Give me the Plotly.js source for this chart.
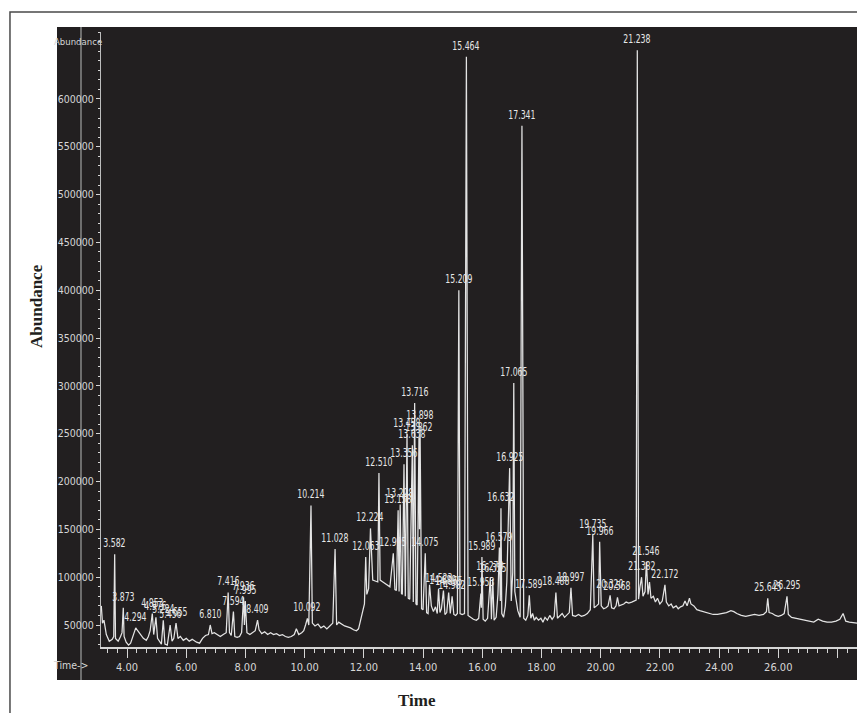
<!DOCTYPE html>
<html>
<head>
<meta charset="utf-8">
<script src="https://cdn.plot.ly/plotly-3.0.1.min.js"></script>
<style>
  html, body { margin: 0; padding: 0; background: #ffffff; }
  #chart { width: 857px; height: 713px; }
  #chart .annotation-text.peak-label-fix { transform-box: fill-box; transform-origin: center; transform: scaleX(0.72); }
</style>
</head>
<body>
<div id="chart"></div>
<script>
// ---- Chromatogram trace (retention time in min, abundance) ----
const timeSeg1 = [3.13, 3.17, 3.22, 3.30, 3.40, 3.50, 3.55, 3.582,
  3.61, 3.70, 3.78, 3.83, 3.873, 3.90, 3.97, 4.05,
  4.12, 4.20, 4.294, 4.36, 4.45, 4.55, 4.65, 4.72,
  4.78, 4.853, 4.90, 4.976, 5.03, 5.10, 5.16, 5.224,
  5.28, 5.36, 5.456, 5.52, 5.58, 5.655, 5.72, 5.80,
  5.90, 6.00, 6.10, 6.20, 6.35, 6.45, 6.55, 6.65,
  6.75, 6.81, 6.87, 6.95];
const abundSeg1 = [70000, 52000, 55000, 40000, 33000, 35000, 38000, 124000,
  36000, 33000, 38000, 42000, 68000, 38000, 32000, 29000,
  31000, 38000, 47000, 44000, 40000, 36000, 34000, 38000,
  44000, 62000, 40000, 58000, 36000, 32000, 30000, 55000,
  30000, 29000, 50000, 33000, 36000, 52000, 36000, 38000,
  34000, 36000, 33000, 35000, 32000, 31000, 36000, 39000,
  40000, 50000, 41000, 42000];

const timeSeg2 = [7.05, 7.15, 7.25, 7.35, 7.416, 7.46, 7.52, 7.594,
  7.64, 7.72, 7.80, 7.87, 7.936, 7.965, 7.995, 8.05,
  8.15, 8.25, 8.33, 8.409, 8.46, 8.55, 8.65, 8.75,
  8.85, 8.95, 9.05, 9.15, 9.25, 9.35, 9.45, 9.55,
  9.65, 9.72, 9.80, 9.90, 9.97, 10.03, 10.092, 10.14,
  10.214, 10.26, 10.35, 10.45, 10.55, 10.65, 10.75, 10.85,
  10.95, 11.028, 11.08, 11.15, 11.25, 11.35, 11.45, 11.55,
  11.65, 11.75, 11.82];
const abundSeg2 = [40000, 38000, 40000, 42000, 84000, 42000, 39000, 64000,
  38000, 37000, 38000, 42000, 79000, 50000, 75000, 42000,
  40000, 42000, 44000, 55000, 45000, 41000, 43000, 40000,
  42000, 40000, 41000, 39000, 40000, 38000, 37000, 38000,
  40000, 46000, 40000, 42000, 44000, 50000, 57000, 50000,
  175000, 52000, 49000, 51000, 47000, 49000, 46000, 49000,
  52000, 129500, 50000, 53000, 51000, 49000, 48000, 47000,
  45000, 44000, 46000];

const timeSeg3 = [11.95, 12.02, 12.063, 12.10, 12.16, 12.224, 12.30, 12.40,
  12.47, 12.51, 12.55, 12.63, 12.70, 12.80, 12.88, 12.995,
  13.05, 13.10, 13.158, 13.19, 13.228, 13.27, 13.30, 13.356,
  13.40, 13.458, 13.50, 13.55, 13.638, 13.67, 13.716, 13.76,
  13.80, 13.862, 13.88, 13.898, 13.95, 14.00, 14.075, 14.12,
  14.17];
const abundSeg3 = [62000, 72000, 121000, 82000, 88000, 151000, 97000, 96000,
  95000, 209000, 97000, 95300, 93800, 91600, 89900, 125000,
  87000, 86000, 170000, 85000, 176000, 83000, 82000, 218000,
  80000, 250000, 78000, 77000, 238000, 74000, 282000, 72000,
  71000, 246000, 150000, 258000, 67000, 66000, 125000, 63000,
  62000];

const timeSeg4 = [14.22, 14.28, 14.35, 14.42, 14.48, 14.523, 14.57, 14.62,
  14.689, 14.74, 14.80, 14.865, 14.92, 14.982, 15.04, 15.10,
  15.16, 15.209, 15.25, 15.32, 15.40, 15.464, 15.52, 15.60,
  15.70, 15.80, 15.88, 15.953, 15.97, 15.989, 16.03, 16.10,
  16.18, 16.273, 16.31, 16.355, 16.40, 16.47, 16.53, 16.579,
  16.61, 16.632, 16.66, 16.72, 16.78, 16.83, 16.925, 16.98,
  17.03, 17.065, 17.10, 17.20, 17.28, 17.341, 17.40, 17.47];
const abundSeg4 = [92000, 70000, 64000, 69000, 62000, 88000, 63000, 67000,
  86000, 61000, 63000, 84000, 62000, 80000, 61000, 60000,
  62000, 400000, 62000, 61000, 62000, 644000, 60000, 58000,
  56000, 55000, 57000, 83000, 68000, 121000, 56000, 54000,
  57000, 100000, 56000, 98000, 55000, 58000, 82000, 131000,
  75000, 172000, 62000, 58000, 70000, 95000, 214000, 75000,
  105000, 303000, 85000, 65000, 58000, 572000, 57000, 55000];

const timeSeg5 = [17.54, 17.589, 17.64, 17.70, 17.76, 17.82, 17.90, 17.98,
  18.05, 18.12, 18.20, 18.28, 18.36, 18.43, 18.488, 18.54,
  18.62, 18.70, 18.78, 18.86, 18.94, 18.997, 19.05, 19.15,
  19.25, 19.35, 19.45, 19.55, 19.65, 19.735, 19.78, 19.86,
  19.93, 19.966, 20.02, 20.10, 20.18, 20.25, 20.32, 20.37,
  20.45, 20.52, 20.568, 20.62, 20.70, 20.78, 20.86, 20.95,
  21.05, 21.12, 21.20, 21.238, 21.28, 21.33, 21.382, 21.43,
  21.50, 21.546, 21.60, 21.65, 21.70, 21.78, 21.85, 21.92,
  22.00, 22.08, 22.172, 22.22, 22.30];
const abundSeg5 = [60000, 81000, 57000, 62000, 55000, 58000, 55000, 57000,
  53000, 58000, 55000, 60000, 56000, 59000, 84000, 57000,
  60000, 62000, 58000, 60000, 63000, 89000, 60000, 59000,
  61000, 59000, 60000, 62000, 66000, 144000, 68000, 70000,
  72000, 137000, 70000, 67000, 68000, 70000, 81000, 68000,
  67000, 70000, 79000, 70000, 71000, 72000, 74000, 73000,
  74000, 75000, 76000, 651000, 77000, 90000, 100000, 80000,
  85000, 116000, 82000, 95000, 78000, 80000, 74000, 78000,
  72000, 75000, 92000, 74000, 70000];

const timeSeg6 = [22.38, 22.45, 22.55, 22.62, 22.70, 22.78, 22.85, 22.92,
  23.00, 23.05, 23.15, 23.25, 23.35, 23.45, 23.55, 23.65,
  23.80, 23.95, 24.10, 24.25, 24.40, 24.50, 24.60, 24.75,
  24.90, 25.05, 25.20, 25.35, 25.50, 25.60, 25.645, 25.69,
  25.80, 25.90, 26.00, 26.10, 26.20, 26.295, 26.34, 26.45,
  26.60, 26.75, 26.90, 27.05, 27.20, 27.35, 27.50, 27.65,
  27.80, 27.95, 28.08, 28.19, 28.28, 28.40, 28.55, 28.66];
const abundSeg6 = [72000, 68000, 70000, 67000, 69000, 70000, 75000, 70000,
  78000, 72000, 70000, 66000, 65000, 64000, 63000, 62000,
  61000, 61000, 62000, 63000, 65000, 64000, 62000, 60000,
  59000, 60000, 61000, 60000, 61000, 64000, 78000, 63000,
  62000, 60000, 59000, 60000, 62000, 80000, 61000, 58000,
  57000, 56000, 55000, 54000, 53000, 56000, 54000, 53000,
  53000, 54000, 56000, 62000, 54000, 53000, 52000, 52000];

// ---- Peak labels (retention times printed above peaks) ----
const peakLabels = ["3.582","3.873","4.294","4.853","4.976","5.224","5.456","5.655",
  "6.810","7.416","7.594","7.936","7.995","8.409","10.092","10.214","11.028",
  "12.063","12.224","12.510","12.995","13.158","13.228","13.356","13.458","13.638",
  "13.716","13.862","13.898","14.075","14.523","14.689","14.865","14.982",
  "15.209","15.464","15.953","15.989","16.273","16.355","16.579","16.632",
  "16.925","17.065","17.341","17.589","18.488","18.997","19.735","19.966",
  "20.320","20.568","21.238","21.382","21.546","22.172","25.645","26.295"];

// ---- Axis ticks ----
const timeTickVals = [4, 6, 8, 10, 12, 14, 16, 18, 20, 22, 24, 26, 28];
const timeTickText = ["4.00","6.00","8.00","10.00","12.00","14.00","16.00","18.00","20.00","22.00","24.00","26.00",""];
const abundTickVals = [50000,100000,150000,200000,250000,300000,350000,400000,450000,500000,550000,600000];

const times = [].concat(timeSeg1, timeSeg2, timeSeg3, timeSeg4, timeSeg5, timeSeg6);
const abund = [].concat(abundSeg1, abundSeg2, abundSeg3, abundSeg4, abundSeg5, abundSeg6);

const narrow = "'Liberation Sans Narrow', 'Arial Narrow', 'DejaVu Sans Condensed', sans-serif";
const serif = "'Liberation Serif', 'Times New Roman', 'DejaVu Serif', serif";
const ink = '#221f20';
const light = '#d6d6d6';

const trace = {
  x: times, y: abund, type: 'scatter', mode: 'lines',
  line: { color: '#e4e4e4', width: 1.25 },
  hoverinfo: 'skip'
};

const peakAnnotations = peakLabels.map(function (lab) {
  const t = parseFloat(lab);
  const i = times.findIndex(function (v) { return Math.abs(v - t) < 1e-6; });
  return {
    x: t, y: abund[i], xref: 'x', yref: 'y', text: lab, showarrow: false,
    yanchor: 'bottom', xanchor: 'center', yshift: 2,
    font: { family: narrow, size: 12, color: '#e8e8e8' }
  };
});

const otherAnnotations = [
  { text: '<b>Abundance</b>', xref: 'paper', yref: 'paper', x: -0.0847, y: 0.5545,
    textangle: -90, showarrow: false, xanchor: 'center', yanchor: 'middle',
    font: { family: serif, size: 17, color: ink } },
  { text: '<b>Time</b>', xref: 'paper', yref: 'paper', x: 0.418, y: -0.0862,
    showarrow: false, xanchor: 'center', yanchor: 'middle',
    font: { family: serif, size: 17, color: ink } },
  { text: 'Abundance', xref: 'paper', yref: 'paper', x: -0.0304, y: 0.985,
    showarrow: false, xanchor: 'center', yanchor: 'middle',
    font: { family: narrow, size: 9.5, color: light } },
  { text: 'Time->', xref: 'paper', yref: 'paper', x: -0.0397, y: -0.0293,
    showarrow: false, xanchor: 'center', yanchor: 'middle',
    font: { family: narrow, size: 10.5, color: light } }
];

const layout = {
  width: 857, height: 713,
  margin: { l: 101, r: 0, t: 32, b: 66, pad: 0 },
  paper_bgcolor: '#ffffff',
  plot_bgcolor: ink,
  showlegend: false,
  xaxis: {
    range: [3.12, 28.66],
    tickmode: 'array', tickvals: timeTickVals, ticktext: timeTickText,
    ticks: 'outside', ticklen: 9, tickwidth: 1, tickcolor: light,
    showline: true, linecolor: light, linewidth: 1.5,
    showgrid: false, zeroline: false,
    tickfont: { family: narrow, size: 11, color: light },
    minor: { tickmode: 'linear', tick0: 4, dtick: 1/3, ticks: 'outside', ticklen: 4, tickcolor: light, showgrid: false }
  },
  yaxis: {
    range: [27000, 670000],
    tickmode: 'array', tickvals: abundTickVals, tickformat: 'd',
    ticks: 'outside', ticklen: 4, tickwidth: 1, tickcolor: light,
    showline: true, linecolor: '#bdbdbd', linewidth: 1.2,
    showgrid: false, zeroline: false,
    exponentformat: 'none', separatethousands: false,
    tickfont: { family: narrow, size: 10.5, color: light },
    minor: { tickmode: 'linear', tick0: 0, dtick: 10000, ticks: 'outside', ticklen: 2, tickcolor: light, showgrid: false }
  },
  shapes: [
    { type: 'rect', xref: 'paper', yref: 'paper', x0: -0.1204, x1: 1.02, y0: -0.13, y1: 1.0325,
      line: { color: '#4a4a4a', width: 1.5 }, fillcolor: 'rgba(0,0,0,0)', layer: 'below' },
    { type: 'rect', xref: 'paper', yref: 'paper', x0: -0.0582, x1: 1.0, y0: -0.0537, y1: 1.0081,
      line: { width: 0 }, fillcolor: ink, layer: 'below' },
    { type: 'line', xref: 'paper', yref: 'paper', x0: -0.02646, x1: -0.02646, y0: -0.0537, y1: 1.0081,
      line: { color: '#6e6e6e', width: 2 }, layer: 'below' }
  ],
  annotations: otherAnnotations.concat(peakAnnotations)
};

Plotly.newPlot('chart', [trace], layout, { displayModeBar: false, staticPlot: true }).then(function (gd) {
  // condense the peak-label glyphs like the instrument's narrow font
  const labelSet = new Set(peakLabels);
  gd.querySelectorAll('.annotation-text').forEach(function (el) {
    if (labelSet.has(el.textContent) && !el.hasAttribute('transform')) {
      el.classList.add('peak-label-fix');
    }
  });
});
</script>
</body>
</html>
